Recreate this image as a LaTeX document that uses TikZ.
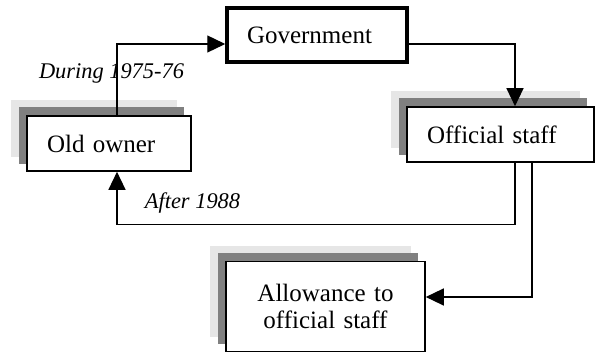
\documentclass[tikz,border=0pt]{standalone}
\usepackage{fontspec}
\setmainfont{Liberation Serif}
\usetikzlibrary{arrows.meta,backgrounds}
\definecolor{shadelight}{HTML}{E6E6E6}
\definecolor{shadedark}{HTML}{808080}
\begin{document}
\begin{tikzpicture}[x=1pt,y=-1pt,
  box/.style={draw, line width=1.6pt, fill=white, minimum height=55pt,
    inner xsep=20pt, inner ysep=0pt, align=left,
    font=\fontsize{25}{28}\selectfont},
  flow/.style={line width=1.3pt, -{Triangle[length=18pt,width=17pt]}},
  period/.style={font=\fontsize{22.4}{26}\selectfont\itshape, inner sep=0pt, anchor=base}]
\useasboundingbox (0,0) rectangle (595,352);

% the four parties
\node[box, text width=124pt] (oo) at (109,143.5) {Old owner};
\node[box, line width=3.5pt, text width=140pt, minimum height=54pt] (gov) at (317,35) {Government};
\node[box, text width=147pt] (staff) at (500.5,134.5) {Official staff};
\node[box, align=center, text width=159pt, minimum height=90pt] (allow) at (325.5,306.5)
  {Allowance to\\[-1pt]official staff};

% stacked drop shadows behind the plain boxes
\begin{scope}[on background layer]
  \foreach \n in {oo,staff,allow} {
    \fill[shadelight] ([shift={(-15pt,15pt)}]\n.south west) rectangle ([shift={(-15pt,15pt)}]\n.north east);
    \fill[shadedark] ([shift={(-7.5pt,8pt)}]\n.south west) rectangle ([shift={(-7.5pt,8pt)}]\n.north east);
  }
\end{scope}

% transfers of the property
\draw[flow] ([xshift=8pt]oo.north) |- ([yshift=-9pt]gov.west);
\draw[flow] ([yshift=-9pt]gov.east) -| ([xshift=14.5pt]staff.north);
\draw[flow] ([xshift=14.5pt]staff.south) -- ++(0,62) -| ([xshift=8pt]oo.south);
\draw[flow] ([xshift=31.5pt]staff.south) |- ([yshift=9.5pt]allow.east);

% periods
\node[period] (t1) at (111.5,79) {During 1975-76};
\node[period] (t2) at (192.5,209) {After 1988};
\end{tikzpicture}
\end{document}
